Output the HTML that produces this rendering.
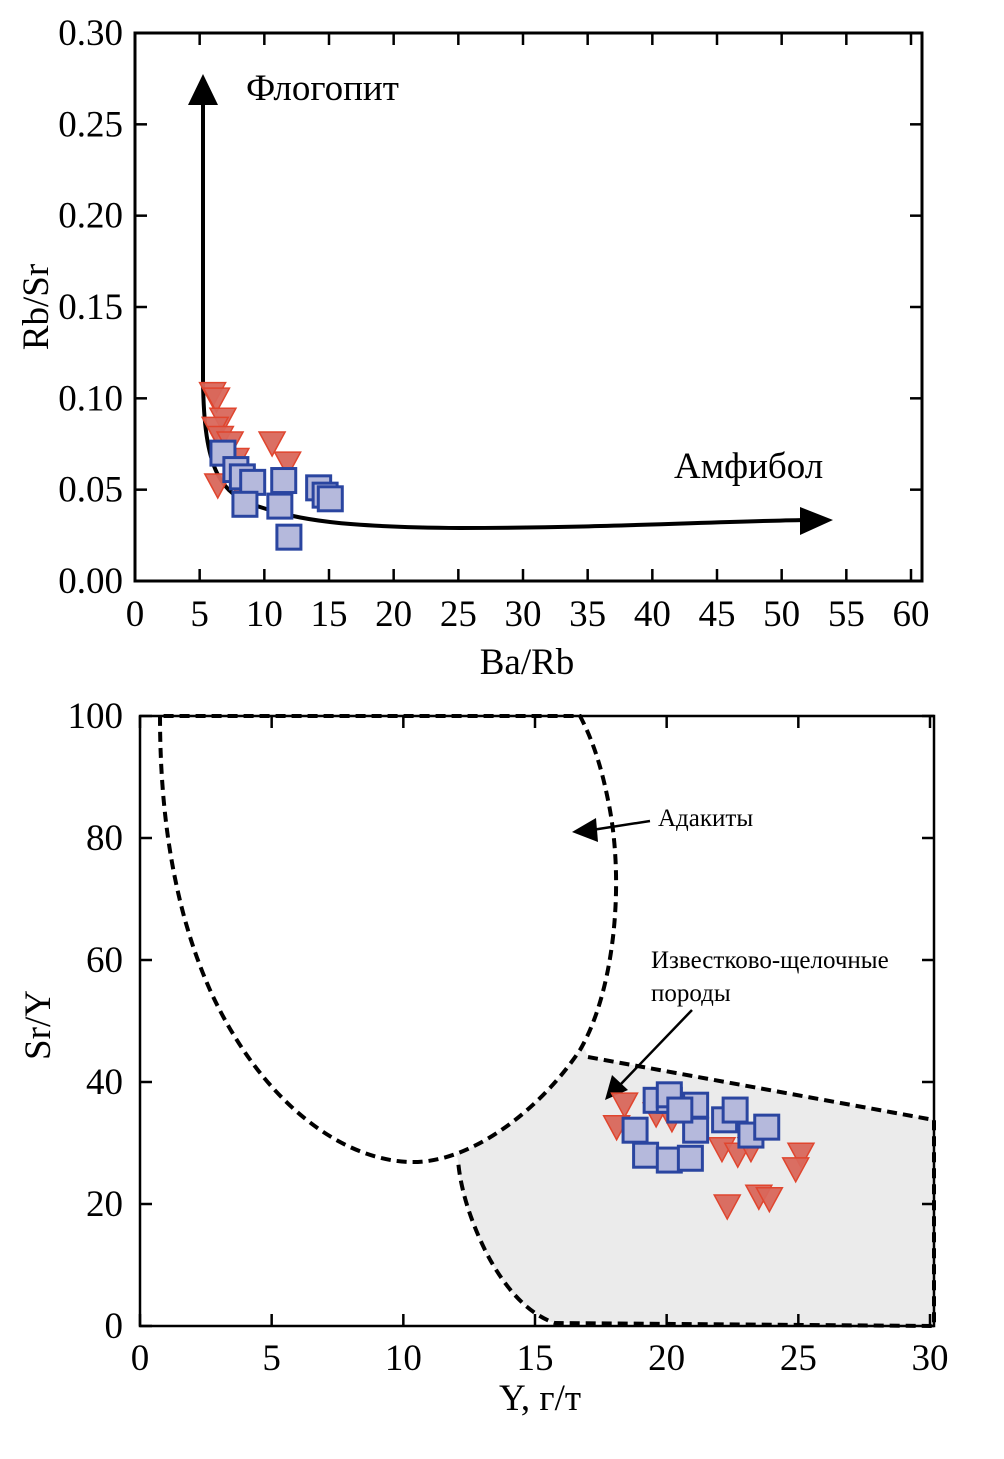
<!DOCTYPE html>
<html><head><meta charset="utf-8">
<style>
body{margin:0;background:#fff;}
svg{display:block;font-family:"Liberation Serif","DejaVu Serif",serif;}
</style></head>
<body>
<svg id="chart" width="1004" height="1459" viewBox="0 0 1004 1459" xmlns="http://www.w3.org/2000/svg">
<g id="top"></g>
<g id="bot"></g>
</svg>
<script>
// ---- Top chart data ----
const topXTicks = [0,5,10,15,20,25,30,35,40,45,50,55,60];
const topYTicks = [0,0.05,0.10,0.15,0.20,0.25,0.30];
const topTriX = [6.0,6.3,6.8,6.2,6.6,7.35,10.6,11.8,6.4,8.1,7.8];
const topTriY = [0.102,0.099,0.088,0.083,0.078,0.075,0.075,0.064,0.052,0.051,0.066];
const topSqX = [6.8,7.8,8.3,9.1,8.5,11.5,11.2,11.9,14.2,14.7,15.1];
const topSqY = [0.070,0.061,0.057,0.054,0.042,0.055,0.041,0.024,0.051,0.047,0.045];
// ---- Bottom chart data ----
const botXTicks = [0,5,10,15,20,25,30];
const botYTicks = [0,20,40,60,80,100];
const botTriX = [18.4,18.1,19.6,20.2,22.1,22.7,23.2,25.1,24.9,22.3,23.5,23.9];
const botTriY = [36.2,32.5,34.6,33.8,28.9,28.0,28.9,28.0,25.6,19.5,21.1,20.7];
const botSqX = [18.8,19.6,20.1,20.1,21.1,19.2,20.1,20.9,21.1,20.5,22.2,22.6,23.2,23.8];
const botSqY = [32.1,37.0,37.0,37.9,36.2,28.0,27.2,27.5,32.1,35.4,33.8,35.4,31.3,32.6];

const NS="http://www.w3.org/2000/svg";
function mk(parent,tag,attrs){const e=document.createElementNS(NS,tag);for(const k in attrs)e.setAttribute(k,attrs[k]);parent.appendChild(e);return e;}

const tx=v=>135+v*(911-135)/60, ty=v=>581-v*(548/0.30);
const bx=v=>140+v*(930-140)/30, by=v=>1326-v*6.1;

function tri(g,x,y){const e=mk(g,'path',{d:`M${x-13},${y-12} L${x+13},${y-12} L${x},${y+12} Z`,fill:'#d9675b',stroke:'#e0452e','stroke-width':1.5,'fill-opacity':0.95});

}
function sq(g,x,y){const e=mk(g,'rect',{x:x-12,y:y-12,width:24,height:24,fill:'#b5b9dc',stroke:'#2a45a0','stroke-width':3});

}

// TOP
const T=document.getElementById('top');
let r=mk(T,'rect',{x:135,y:33,width:787,height:548,fill:'none',stroke:'#000','stroke-width':3});

topXTicks.forEach(v=>{const x=tx(v);
 mk(T,'line',{x1:x,y1:581,x2:x,y2:569,stroke:'#000','stroke-width':2.5});
 mk(T,'line',{x1:x,y1:33,x2:x,y2:45,stroke:'#000','stroke-width':2.5});
 const t=mk(T,'text',{x:x,y:626,'font-size':37,'text-anchor':'middle'});t.textContent=v;
 });
topYTicks.forEach(v=>{const y=ty(v);
 mk(T,'line',{x1:135,y1:y,x2:147,y2:y,stroke:'#000','stroke-width':2.5});
 mk(T,'line',{x1:922,y1:y,x2:910,y2:y,stroke:'#000','stroke-width':2.5});
 const t=mk(T,'text',{x:123,y:y+12,'font-size':37,'text-anchor':'end'});t.textContent=v.toFixed(2);
 });
let c=mk(T,'path',{d:'M203,100 L203,380 C204,470 220,495 260,507 C300,520 340,527 460,528 C600,528 700,522 805,520',fill:'none',stroke:'#000','stroke-width':4});

mk(T,'path',{d:'M188,105 L218,105 L203,74 Z',fill:'#000'});
mk(T,'path',{d:'M800,507 L833,520 L800,535 Z',fill:'#000'});
let l=mk(T,'text',{x:246,y:100,'font-size':37});l.textContent='Флогопит';

l=mk(T,'text',{x:674,y:478,'font-size':37});l.textContent='Амфибол';

topTriX.forEach((v,i)=>tri(T,tx(v),ty(topTriY[i])));
topSqX.forEach((v,i)=>sq(T,tx(v),ty(topSqY[i])));
l=mk(T,'text',{x:527,y:674,'font-size':37,'text-anchor':'middle'});l.textContent='Ba/Rb';

l=mk(T,'text',{x:0,y:0,'font-size':37,'text-anchor':'middle',transform:'translate(48,307) rotate(-90)'});l.textContent='Rb/Sr';


// BOTTOM
const B=document.getElementById('bot');
let f=mk(B,'path',{d:'M588,1057 L934,1120 L934,1326 L555,1323 C530,1315 505,1290 485,1250 C468,1215 460,1185 458,1160 L440,1100 L560,990 Z',fill:'#ebebeb',stroke:'none'});

const adPath='M160,716 C160,800 170,900 210,990 C260,1100 340,1160 410,1162 C470,1164 540,1110 580,1050 C615,990 625,880 608,800 C600,760 590,735 580,716 Z';
mk(B,'path',{d:adPath,fill:'#fff',stroke:'none'});
f=mk(B,'path',{d:'M588,1057 L934,1120 L934,1326 L555,1323 C530,1315 505,1290 485,1250 C468,1215 460,1185 458,1160',fill:'none',stroke:'#000','stroke-width':4,'stroke-dasharray':'10,6'});

f=mk(B,'path',{d:adPath,fill:'none',stroke:'#000','stroke-width':4,'stroke-dasharray':'10,6'});

r=mk(B,'rect',{x:140,y:716,width:794,height:610,fill:'none',stroke:'#000','stroke-width':2.5});

botXTicks.forEach(v=>{const x=bx(v);
 mk(B,'line',{x1:x,y1:1326,x2:x,y2:1314,stroke:'#000','stroke-width':2.5});
 mk(B,'line',{x1:x,y1:716,x2:x,y2:728,stroke:'#000','stroke-width':2.5});
 const t=mk(B,'text',{x:x,y:1370,'font-size':37,'text-anchor':'middle'});t.textContent=v;
 });
botYTicks.forEach(v=>{const y=by(v);
 mk(B,'line',{x1:140,y1:y,x2:152,y2:y,stroke:'#000','stroke-width':2.5});
 mk(B,'line',{x1:934,y1:y,x2:922,y2:y,stroke:'#000','stroke-width':2.5});
 const t=mk(B,'text',{x:123,y:y+12,'font-size':37,'text-anchor':'end'});t.textContent=v;
 });
mk(B,'line',{x1:650,y1:821,x2:592,y2:830,stroke:'#000','stroke-width':2.5});
mk(B,'path',{d:'M572,832 L596,818 L598,842 Z',fill:'#000'});
l=mk(B,'text',{x:658,y:826,'font-size':25});l.textContent='Адакиты';

l=mk(B,'text',{x:651,y:968,'font-size':25});l.textContent='Известково-щелочные';

l=mk(B,'text',{x:651,y:1001,'font-size':25});l.textContent='породы';
mk(B,'line',{x1:692,y1:1010,x2:620,y2:1085,stroke:'#000','stroke-width':2.5});
mk(B,'path',{d:'M605,1100 L612,1075 L628,1090 Z',fill:'#000'});
botTriX.forEach((v,i)=>tri(B,bx(v),by(botTriY[i])));
botSqX.forEach((v,i)=>sq(B,bx(v),by(botSqY[i])));
l=mk(B,'text',{x:540,y:1410,'font-size':37,'text-anchor':'middle'});l.textContent='Y, г/т';

l=mk(B,'text',{x:0,y:0,'font-size':37,'text-anchor':'middle',transform:'translate(50,1025) rotate(-90)'});l.textContent='Sr/Y';

</script>
</body></html>
